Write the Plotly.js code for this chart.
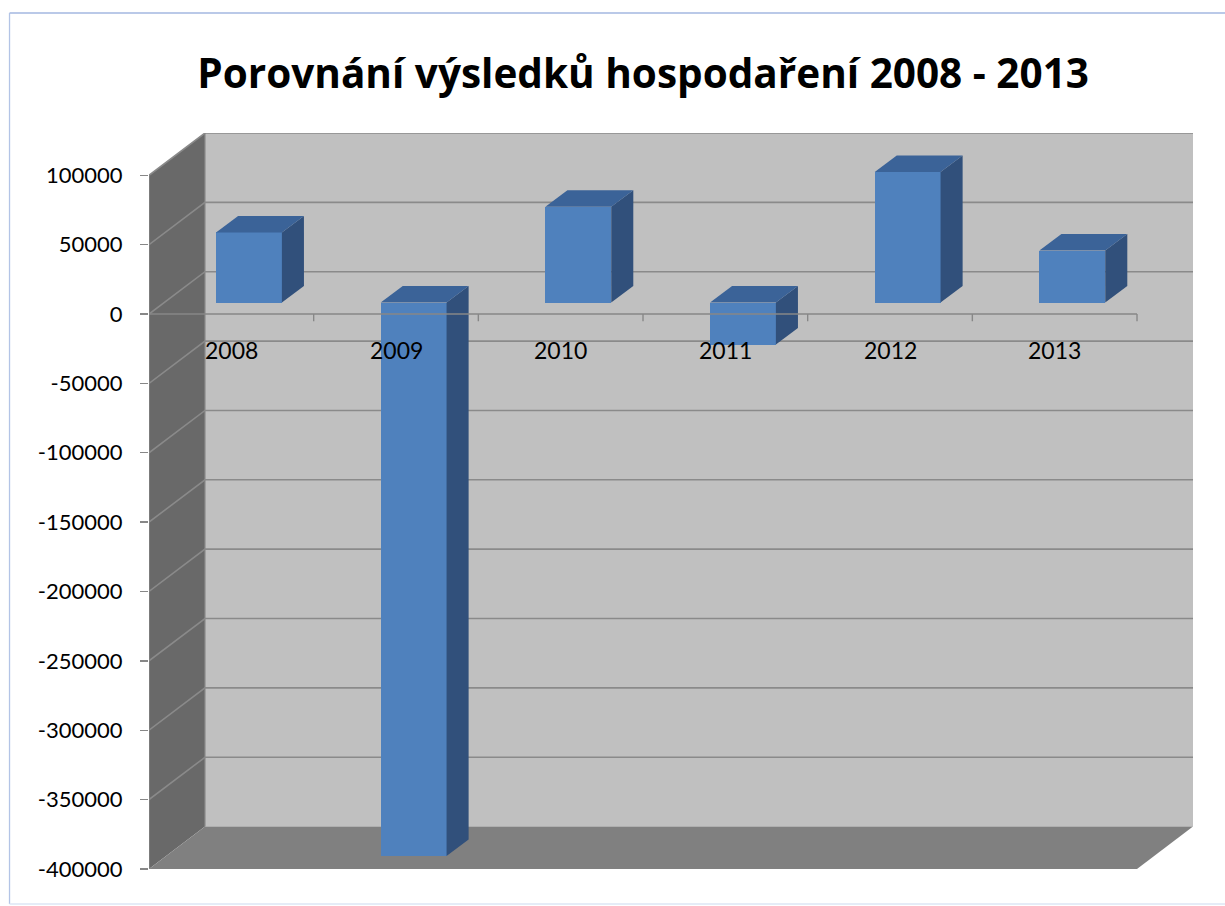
<!DOCTYPE html>
<html>
<head>
<meta charset="utf-8">
<script src="https://cdn.plot.ly/plotly-3.0.1.min.js"></script>
<style>html,body{margin:0;padding:0;background:#fff;}#chart{width:1225px;height:906px;}</style>
</head>
<body>
<div id="chart"></div>
<script>
// ---- data ----
const categories = ['2008', '2009', '2010', '2011', '2012', '2013'];
const values = [50500, -399000, 69000, -30300, 94000, 37500];
const yTickVals = [100000, 50000, 0, -50000, -100000, -150000, -200000, -250000, -300000, -350000, -400000];
const yTickText = ['100000', '50000', '0', '-50000', '-100000', '-150000', '-200000', '-250000', '-300000', '-350000', '-400000'];
const titleText = 'Porovnání výsledků hospodaření 2008 - 2013';

// ---- 3D geometry (oblique projection, in axis units) ----
const DX = 0.34, DY = 30500;          // wall depth
const BX = 0.107, BASE = 8300;        // bar front plane offset
const BW = 0.40;                      // bar width
const BDX = 0.134, BDY = 11900;       // bar depth
const YMAX = yTickVals[0], YMIN = yTickVals[yTickVals.length - 1];
const XL = -0.5, XR = categories.length - 0.5;

const cFront = '#4f81bd', cTop = '#3b6398', cSide = '#31507b';

const traces = [];
traces.push({
  type: 'bar', x: categories.map((c, i) => i + BX), y: values, base: BASE,
  width: BW, marker: {color: cFront, line: {width: 0}}, hoverinfo: 'skip', showlegend: false
});
values.forEach((v, i) => {
  const x0 = i + BX - BW / 2, x1 = i + BX + BW / 2;
  const top = BASE + Math.max(v, 0), bot = BASE + Math.min(v, 0);
  traces.push({
    type: 'scatter', mode: 'lines', fill: 'toself', fillcolor: cSide, line: {width: 0, color: cSide},
    x: [x1, x1 + BDX, x1 + BDX, x1, x1], y: [top, top + BDY, bot + BDY, bot, top],
    hoverinfo: 'skip', showlegend: false
  });
  traces.push({
    type: 'scatter', mode: 'lines', fill: 'toself', fillcolor: cTop, line: {width: 0, color: cTop},
    x: [x0, x0 + BDX, x1 + BDX, x1, x0], y: [top, top + BDY, top + BDY, top, top],
    hoverinfo: 'skip', showlegend: false
  });
});

const shapes = [];
// back wall
shapes.push({type: 'path', layer: 'below', xref: 'x', yref: 'y',
  path: `M${XL + DX},${YMIN + DY} L${XR + DX},${YMIN + DY} L${XR + DX},${YMAX + DY} L${XL + DX},${YMAX + DY} Z`,
  fillcolor: '#c0c0c0', line: {width: 0}});
// left wall
shapes.push({type: 'path', layer: 'below', xref: 'x', yref: 'y',
  path: `M${XL},${YMIN} L${XL + DX},${YMIN + DY} L${XL + DX},${YMAX + DY} L${XL},${YMAX} Z`,
  fillcolor: '#696969', line: {width: 0}});
// floor
shapes.push({type: 'path', layer: 'below', xref: 'x', yref: 'y',
  path: `M${XL},${YMIN} L${XR},${YMIN} L${XR + DX},${YMIN + DY} L${XL + DX},${YMIN + DY} Z`,
  fillcolor: '#808080', line: {width: 0}});
// gridlines (back wall + left wall)
yTickVals.forEach(v => {
  if (v === YMIN) return;
  shapes.push({type: 'path', layer: 'below', xref: 'x', yref: 'y',
    path: `M${XL},${v} L${XL + DX},${v + DY} L${XR + DX},${v + DY}`,
    line: {color: '#8a8a8a', width: 1.6}});
});
// wall edges
shapes.push({type: 'line', layer: 'below', xref: 'x', yref: 'y', x0: XL + DX, x1: XL + DX, y0: YMIN + DY, y1: YMAX + DY,
  line: {color: '#8a8a8a', width: 1.2}});
shapes.push({type: 'line', layer: 'below', xref: 'x', yref: 'y', x0: XL, x1: XL, y0: YMIN, y1: YMAX,
  line: {color: '#8a8a8a', width: 1.2}});
// front zero axis with category tick marks
shapes.push({type: 'line', layer: 'above', xref: 'x', yref: 'y', x0: XL, x1: XR, y0: 0, y1: 0,
  line: {color: '#878787', width: 1.6}});
categories.forEach((c, i) => {
  shapes.push({type: 'line', layer: 'above', xref: 'x', yref: 'y', x0: i + 0.5, x1: i + 0.5, y0: 0, y1: -5200,
    line: {color: '#878787', width: 1.4}});
});
// outer chart border
shapes.push({type: 'line', xref: 'paper', yref: 'paper', x0: -0.1336, x1: 1.05, y0: 1.1626, y1: 1.1626, line: {color: '#a3b7e0', width: 1.3}});
shapes.push({type: 'line', xref: 'paper', yref: 'paper', x0: -0.1336, x1: -0.1336, y0: 1.1626, y1: -0.0447, line: {color: '#b3c4e6', width: 1.3}});
shapes.push({type: 'line', xref: 'paper', yref: 'paper', x0: -0.1336, x1: 1.05, y0: -0.0447, y1: -0.0447, line: {color: '#dde6f5', width: 1.3}});

const annotations = categories.map((c, i) => ({
  x: i, y: 0, xref: 'x', yref: 'y', text: c, showarrow: false, yshift: -36,
  font: {family: 'Lato, sans-serif', size: 23, color: '#000'}
}));

const layout = {
  width: 1225, height: 906,
  margin: {l: 149, r: 32, t: 133, b: 35},
  paper_bgcolor: '#fff', plot_bgcolor: 'rgba(0,0,0,0)',
  showlegend: false,
  title: {text: '<b>' + titleText + '</b>', x: 0.525, xanchor: 'center', y: 0.919, yanchor: 'middle',
    font: {family: '"Open Sans", sans-serif', size: 40.5, color: '#000'}},
  xaxis: {range: [XL, XR + DX], showgrid: false, zeroline: false, showticklabels: false, ticks: '', showline: false, fixedrange: true},
  yaxis: {range: [-401500, YMAX + DY], showgrid: false, zeroline: false, showline: false,
    tickmode: 'array', tickvals: yTickVals, ticktext: yTickText,
    ticks: 'outside', ticklen: 8, tickwidth: 1.4, tickcolor: '#878787', ticklabelstandoff: 13,
    tickfont: {family: 'Lato, sans-serif', size: 22, color: '#000'}, fixedrange: true},
  shapes: shapes,
  annotations: annotations,
  bargap: 0
};

Plotly.newPlot('chart', traces, layout, {displayModeBar: false, staticPlot: true});
</script>
</body>
</html>
